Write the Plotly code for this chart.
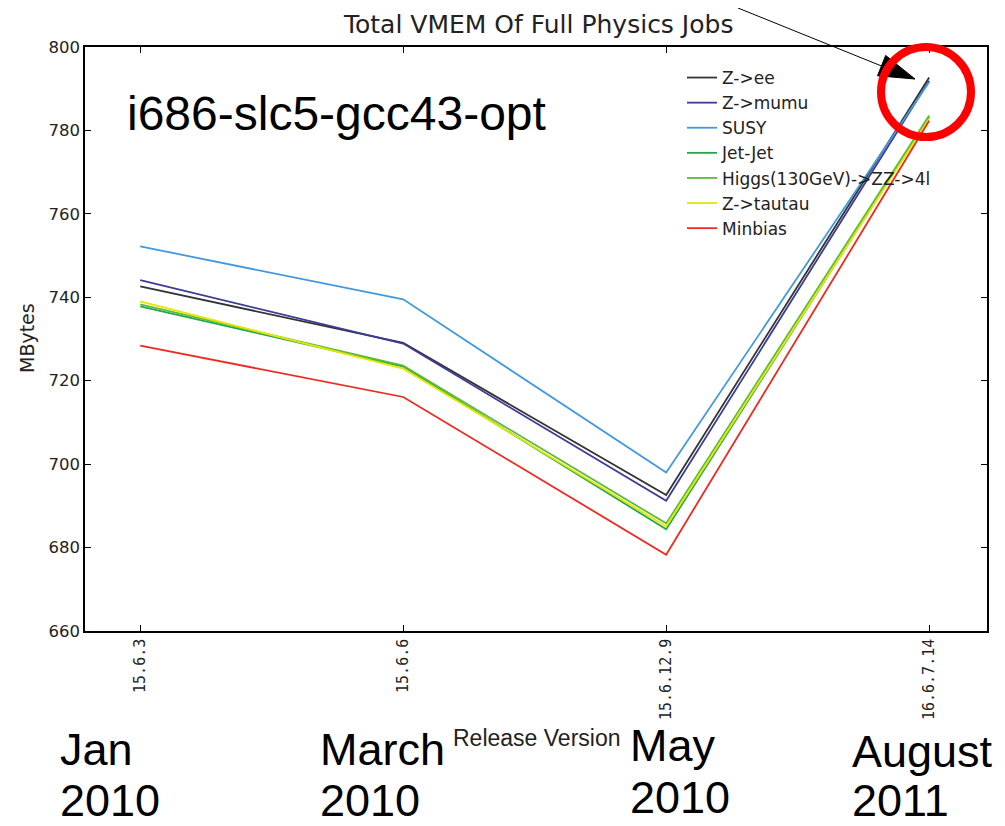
import math
import plotly.graph_objects as go

releases = ["15.6.3", "15.6.6", "15.6.12.9", "16.6.7.14"]
zee = [742.6, 729.1, 692.6, 792.7]
zmumu = [744.1, 728.9, 691.2, 791.9]
susy = [752.2, 739.5, 698.0, 791.6]
jetjet = [737.8, 723.4, 684.4, 783.2]
higgs = [738.3, 723.6, 685.8, 783.6]
ztautau = [739.0, 722.9, 685.1, 782.8]
minbias = [728.4, 716.1, 678.3, 782.3]

months = ["Jan", "March", "May", "August"]
years = ["2010", "2010", "2010", "2011"]

series = [
    ("Z->ee", zee, "#333333"),
    ("Z->mumu", zmumu, "#3b3b98"),
    ("SUSY", susy, "#4499dd"),
    ("Jet-Jet", jetjet, "#22a84a"),
    ("Higgs(130GeV)->ZZ->4l", higgs, "#5cbb3c"),
    ("Z->tautau", ztautau, "#e6e600"),
    ("Minbias", minbias, "#ee2a1f"),
]

# page has an 8px body margin; screen coords below refer to the 1005x826 window
OFF = 8
W_FIG, H_FIG = 1005 - OFF, 826 - OFF
L, R, T, B = 85, 987, 47, 631          # plot area in screen coords
PW, PH = R - L, B - T


def xp(x):
    return (x - L) / PW


def yp(y):
    return (B - y) / PH


fig = go.Figure()
idx = list(range(len(releases)))
for name, vals, col in series:
    fig.add_trace(go.Scatter(x=idx, y=vals, mode="lines", name=name,
                             line=dict(color=col, width=1.8)))

ann = []


def txt(text, x, y, size, family="Liberation Sans", xanchor="center", angle=0, color="black"):
    ann.append(dict(text=text, x=xp(x), y=yp(y), xref="paper", yref="paper",
                    showarrow=False, xanchor=xanchor, yanchor="middle", textangle=angle,
                    font=dict(family=family, size=size, color=color)))


txt("Total VMEM Of Full Physics Jobs", 538, 25, 25, family="DejaVu Sans", color="#222")
txt("i686-slc5-gcc43-opt", 125, 113, 48, xanchor="left")
txt("MBytes", 27, 338, 19, family="DejaVu Sans", angle=-90, color="#222")
txt("Release Version", 537, 738, 23, color="#222")

date_x = [58, 318, 628, 850]
date_y1 = [749, 749, 745, 751]
date_y2 = [800, 800, 797, 800]
for m, yr, x0, y1, y2 in zip(months, years, date_x, date_y1, date_y2):
    txt(m, x0, y1, 45, xanchor="left")
    txt(yr, x0, y2, 45, xanchor="left")

shapes = []
tip = (915, 79)
start = (718, 0)
slope = (tip[1] - start[1]) / (tip[0] - start[0])
sx, sy = start[0] + (OFF - start[1]) / slope, OFF
shapes.append(dict(type="line", xref="paper", yref="paper",
                   x0=xp(sx), y0=yp(sy), x1=xp(884), y1=yp(67),
                   line=dict(color="black", width=1)))
dx, dy = tip[0] - start[0], tip[1] - start[1]
n = math.hypot(dx, dy)
ux, uy = dx / n, dy / n
hl, hw = 36, 11
bx, by = tip[0] - hl * ux, tip[1] - hl * uy
p1 = (bx - hw * uy, by + hw * ux)
p2 = (bx + hw * uy, by - hw * ux)
path = "M {} {} L {} {} L {} {} Z".format(xp(tip[0]), yp(tip[1]), xp(p1[0]), yp(p1[1]),
                                         xp(p2[0]), yp(p2[1]))
shapes.append(dict(type="path", xref="paper", yref="paper", path=path,
                   fillcolor="black", line=dict(color="black", width=1)))
cx, cy, r = 926, 92, 45
shapes.append(dict(type="circle", xref="paper", yref="paper",
                   x0=xp(cx - r), x1=xp(cx + r), y0=yp(cy + r), y1=yp(cy - r),
                   line=dict(color="#ff0000", width=8)))

fig.update_layout(
    width=W_FIG, height=H_FIG, autosize=False,
    margin=dict(l=L - OFF, r=W_FIG - (R - OFF), t=T - OFF, b=H_FIG - (B - OFF)),
    paper_bgcolor="white", plot_bgcolor="white",
    showlegend=True,
    legend=dict(x=xp(682), y=yp(60), xanchor="left", yanchor="top",
                bgcolor="rgba(0,0,0,0)", font=dict(family="DejaVu Sans", size=17, color="#222"),
                tracegroupgap=0),
    annotations=ann, shapes=shapes,
    xaxis=dict(range=[-0.21, 3.22], tickmode="array", tickvals=idx, ticktext=releases,
               tickangle=-90, ticks="inside", ticklen=6, mirror="ticks",
               showline=True, linecolor="black", linewidth=1.5, showgrid=False,
               zeroline=False, tickcolor="black",
               tickfont=dict(family="DejaVu Sans Mono", size=15, color="#222")),
    yaxis=dict(range=[660, 800], tickmode="array", tickvals=list(range(660, 801, 20)),
               ticks="inside", ticklen=6, mirror="ticks",
               showline=True, linecolor="black", linewidth=1.5, showgrid=False,
               zeroline=False, tickcolor="black",
               tickfont=dict(family="DejaVu Sans", size=16.5, color="#222")),
)

fig.write_html("out.html")
